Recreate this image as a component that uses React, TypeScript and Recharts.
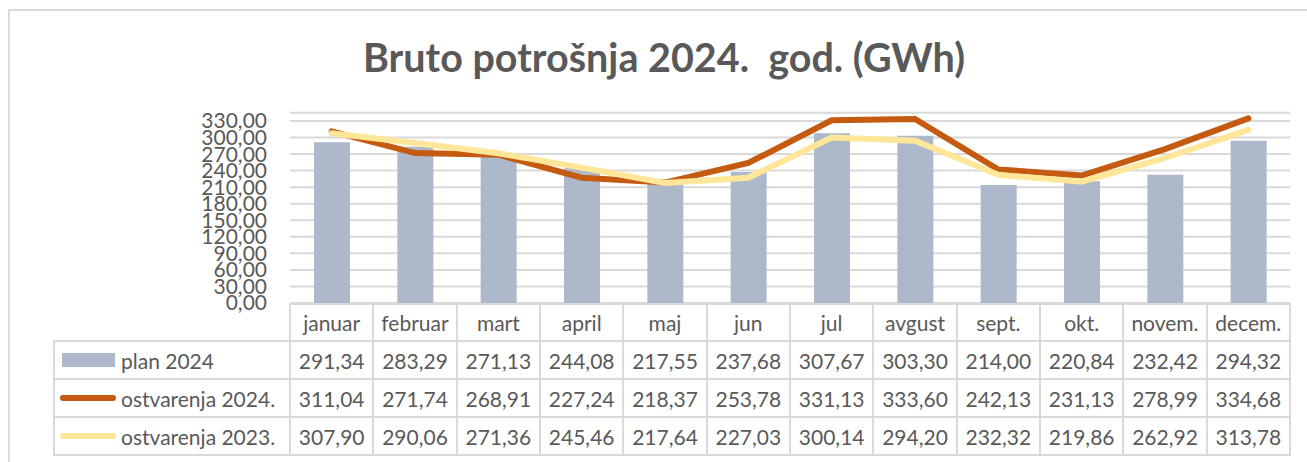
import React from 'react';
import { ComposedChart, Bar, Line, XAxis, YAxis, CartesianGrid } from 'recharts';

const months = ['januar', 'februar', 'mart', 'april', 'maj', 'jun', 'jul', 'avgust', 'sept.', 'okt.', 'novem.', 'decem.'];
const plan2024 = [291.34, 283.29, 271.13, 244.08, 217.55, 237.68, 307.67, 303.3, 214.0, 220.84, 232.42, 294.32];
const ostv2024 = [311.04, 271.74, 268.91, 227.24, 218.37, 253.78, 331.13, 333.6, 242.13, 231.13, 278.99, 334.68];
const ostv2023 = [307.9, 290.06, 271.36, 245.46, 217.64, 227.03, 300.14, 294.2, 232.32, 219.86, 262.92, 313.78];
const yTicks = [0, 30, 60, 90, 120, 150, 180, 210, 240, 270, 300, 330];

const data = months.map((m, i) => ({ month: m, plan: plan2024[i], o24: ostv2024[i], o23: ostv2023[i] }));

const W = 1307;
const H = 462;
const PLOT_LEFT = 290;
const PLOT_RIGHT = 1290;
const PLOT_TOP = 112.7;
const PLOT_BOTTOM = 303;
const FONT = 'Lato, sans-serif';
const TEXT = '#595959';
const BORDER = '#d9d9d9';

const fmt = (v: number) => v.toFixed(2).replace('.', ',');

const rows = [
  { label: 'plan 2024', values: plan2024, kind: 'bar', color: '#adb9ca' },
  { label: 'ostvarenja 2024.', values: ostv2024, kind: 'line', color: '#c55a11' },
  { label: 'ostvarenja 2023.', values: ostv2023, kind: 'line', color: '#ffe699' },
];

const HEAD_TOP = 304;
const ROW_TOPS = [304, 341, 379, 417, 455];
const LEG_LEFT = 54;

const DataTable = () => {
  const colW = (PLOT_RIGHT - PLOT_LEFT) / months.length;
  const cells: React.ReactNode[] = [];
  const cell = (key: string, left: number, top: number, w: number, h: number, content: React.ReactNode, align = 'center') => (
    <div
      key={key}
      style={{
        position: 'absolute',
        left,
        top,
        width: w,
        height: h,
        boxSizing: 'border-box',
        border: `2px solid ${BORDER}`,
        marginLeft: -1,
        marginTop: -1,
        display: 'flex',
        alignItems: 'center',
        justifyContent: align,
        fontFamily: FONT,
        fontSize: 21,
        color: TEXT,
        whiteSpace: 'nowrap',
      }}
    >
      {content}
    </div>
  );
  months.forEach((m, i) => {
    cells.push(cell(`h${i}`, PLOT_LEFT + i * colW, HEAD_TOP, colW + 2, ROW_TOPS[1] - HEAD_TOP + 2, m));
  });
  rows.forEach((r, ri) => {
    const top = ROW_TOPS[ri + 1];
    const h = ROW_TOPS[ri + 2] - top + 2;
    const key = (
      <>
        {r.kind === 'bar' ? (
          <span style={{ display: 'inline-block', width: 53, height: 14, background: r.color, marginLeft: 7, marginRight: 6 }} />
        ) : (
          <span style={{ display: 'inline-block', width: 56, height: 6, borderRadius: 3, background: r.color, marginLeft: 5, marginRight: 5 }} />
        )}
        {r.label}
      </>
    );
    cells.push(cell(`l${ri}`, LEG_LEFT, top, PLOT_LEFT - LEG_LEFT + 2, h, key, 'flex-start'));
    r.values.forEach((v, i) => {
      cells.push(cell(`c${ri}-${i}`, PLOT_LEFT + i * colW, top, colW + 2, h, fmt(v)));
    });
  });
  return <>{cells}</>;
};

export default function App() {
  return (
    <div style={{ position: 'absolute', left: 0, top: 0, width: W, height: H, overflow: 'hidden', background: '#fff' }}>
      <div
        style={{
          position: 'absolute',
          left: 8,
          top: 9,
          width: W + 20,
          height: H + 20,
          border: `2px solid ${BORDER}`,
          boxSizing: 'border-box',
        }}
      />
      <div
        style={{
          position: 'absolute',
          left: 0,
          top: 33,
          width: 1328,
          textAlign: 'center',
          fontFamily: FONT,
          fontWeight: 700,
          fontSize: 39.5,
          color: TEXT,
          whiteSpace: 'pre',
        }}
      >
        Bruto potrošnja 2024.  god. (GWh)
      </div>
      <div style={{ position: 'absolute', left: 0, top: 0 }}>
        <ComposedChart
          width={W}
          height={H}
          data={data}
          margin={{ top: PLOT_TOP, right: W - PLOT_RIGHT, bottom: H - PLOT_BOTTOM, left: 0 }}
          barCategoryGap={0}
        >
          <CartesianGrid vertical={false} stroke={BORDER} strokeWidth={2} />
          <XAxis dataKey="month" hide />
          <YAxis
            width={PLOT_LEFT}
            domain={[0, 345]}
            ticks={yTicks}
            interval={0}
            axisLine={false}
            tickLine={false}
            tickSize={0}
            tickMargin={23}
            tickFormatter={fmt}
            tick={{ fill: TEXT, fontFamily: FONT, fontSize: 21 }}
          />
          <Bar dataKey="plan" fill="#adb9ca" barSize={36} isAnimationActive={false} />
          <Line
            type="linear"
            dataKey="o24"
            stroke="#c55a11"
            strokeWidth={6}
            dot={false}
            strokeLinecap="round"
            isAnimationActive={false}
          />
          <Line
            type="linear"
            dataKey="o23"
            stroke="#ffe699"
            strokeWidth={6}
            dot={false}
            strokeLinecap="round"
            isAnimationActive={false}
          />
        </ComposedChart>
      </div>
      <DataTable />
    </div>
  );
}
